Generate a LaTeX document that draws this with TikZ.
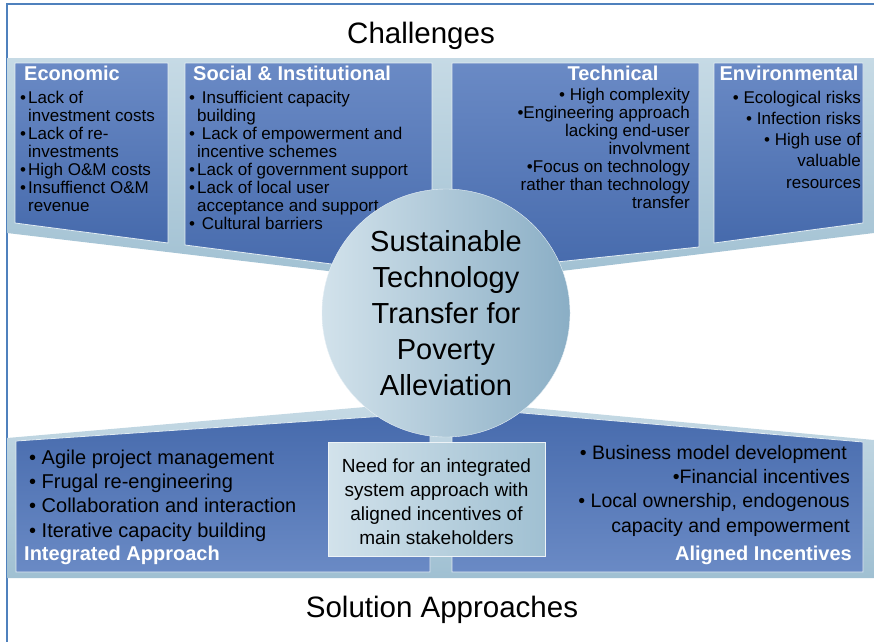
\documentclass[tikz,border=0pt]{standalone}
\usepackage{fontspec}
\setmainfont{Liberation Sans}
\usepackage{xcolor}
\definecolor{frameblue}{RGB}{79,129,189}
\definecolor{paleblue}{RGB}{198,218,229}
\definecolor{greyblue}{RGB}{160,192,210}
\definecolor{darkblue}{RGB}{70,106,172}
\definecolor{midblue}{RGB}{106,138,197}
\definecolor{ringlight}{RGB}{210,226,235}
\definecolor{ringdark}{RGB}{138,174,197}
\newcommand{\itm}{\makebox[8pt][l]{\textbullet}}
\newcommand{\ind}{\hspace*{8pt}}

\begin{document}
\begin{tikzpicture}[x=1pt, y=-1pt,
		backing/.style={top color=paleblue, bottom color=greyblue},
		panel/.style={draw=white!70!greyblue, line width=0.8pt},
		toppanel/.style={panel, top color=midblue, bottom color=darkblue},
		lowpanel/.style={panel, top color=darkblue, bottom color=midblue},
		hub/.style={circle, minimum size=248pt, inner sep=0pt, left color=ringlight, right color=ringdark, draw=white!50!ringlight, align=center, font=\fontsize{29}{36}\selectfont},
		needbox/.style={minimum width=217pt, minimum height=114pt, inner sep=0pt, left color=ringlight, right color=greyblue, draw=white!60!ringlight},
		heading/.style={inner sep=0pt, text=white, font=\fontsize{20}{22}\selectfont\bfseries},
		items/.style={inner sep=0pt, align=left, font=\fontsize{17}{18.1}\selectfont},
		bigitems/.style={inner sep=0pt, align=left, font=\fontsize{20}{24.2}\selectfont},
		caption/.style={inner sep=0pt, anchor=base, font=\fontsize{29.5}{32}\selectfont}]
	\useasboundingbox (0,0) rectangle (874,641);

	% outer frame
	\draw [frameblue, line width=2pt] (7,660) |- (890,4);

	% light backings
	\shade [backing] (7,58) -- (874,58) -- (874,233) -- (446,285) -- (7,233) -- cycle;
	\shade [backing] (7,438) -- (446,400) -- (874,440) -- (874,578) -- (7,578) -- cycle;

	% challenge panels
	\shade [toppanel] (15,63) -- (168,63) -- (168,243) -- (15,223) -- cycle;
	\shade [toppanel] (185,63) -- (432,63) -- (432,277) -- (185,245) -- cycle;
	\shade [toppanel] (452,63) -- (699,63) -- (699,247) -- (452,273) -- cycle;
	\shade [toppanel] (714,63) -- (863,63) -- (863,223) -- (714,243) -- cycle;

	% solution panels
	\shade [lowpanel] (16,441) -- (430,413) -- (430,572) -- (16,572) -- cycle;
	\shade [lowpanel] (452,407) -- (863,442) -- (863,572) -- (452,572) -- cycle;

	\node [caption] (challenges) at (421,43) {Challenges};
	\node [caption] (solutions) at (442,617) {Solution Approaches};

	% headings
	\node [heading, anchor=base west] (econ-head) at (24,80) {Economic};
	\node [heading, anchor=base west] (social-head) at (193,80) {Social \& Institutional};
	\node [heading, anchor=base] (tech-head) at (613,80) {Technical};
	\node [heading, anchor=base] (env-head) at (789,80) {Environmental};
	\node [heading, anchor=base west] (integ-head) at (24,560) {Integrated Approach};
	\node [heading, anchor=base east] (incent-head) at (852,560) {Aligned Incentives};

	% challenge lists (placed by the baseline of their last line)
	\node [items, anchor=base west] (econ-list) at (20,211.6) {\itm Lack of\\\ind investment costs\\\itm Lack of re-\\\ind investments\\\itm High O\&M costs\\\itm Insuffienct O\&M\\\ind revenue};
	\node [items, anchor=base west] (social-list) at (189,229.7) {\itm\ Insufficient capacity\\\ind building\\\itm\ Lack of empowerment and\\\ind incentive schemes\\\itm Lack of government support\\\itm Lack of local user\\\ind acceptance and support\\\itm\ Cultural barriers};
	\node [items, align=right, anchor=base east] (tech-list) at (690,208.6) {\textbullet\ High complexity\\\textbullet Engineering approach\\lacking end-user\\involvment\\\textbullet Focus on technology\\rather than technology\\transfer};
	\node [items, align=right, anchor=base east, font=\fontsize{17}{21.3}\selectfont] (env-list) at (861,188.2) {\textbullet\ Ecological risks\\\textbullet\ Infection risks\\\textbullet\ High use of\hspace*{3pt}\\valuable\hspace*{7pt}\\resources};

	% solution lists
	\node [bigitems, anchor=base west] (integ-list) at (29,537.1) {\textbullet\ Agile project management\\\textbullet\ Frugal re-engineering\\\textbullet\ Collaboration and interaction\\\textbullet\ Iterative capacity building};
	\node [bigitems, align=right, anchor=base east, font=\fontsize{19.5}{24.2}\selectfont] (incent-list) at (850,532.1) {\textbullet\ Business model development\hspace*{3pt}\\\textbullet Financial incentives\\\textbullet\ Local ownership, endogenous\hspace*{3pt}\\capacity and empowerment};

	\node [needbox] (need) at (436.5,499) {};
	\node [inner sep=0pt, align=center, font=\fontsize{19}{24}\selectfont] (need-text) at ([yshift=-3pt]need.center) {Need for an integrated\\system approach with\\aligned incentives of\\main stakeholders};

	% centre
	\node [hub] (hub) at (446,313) {Sustainable\\Technology\\Transfer for\\Poverty\\Alleviation};
\end{tikzpicture}
\end{document}
